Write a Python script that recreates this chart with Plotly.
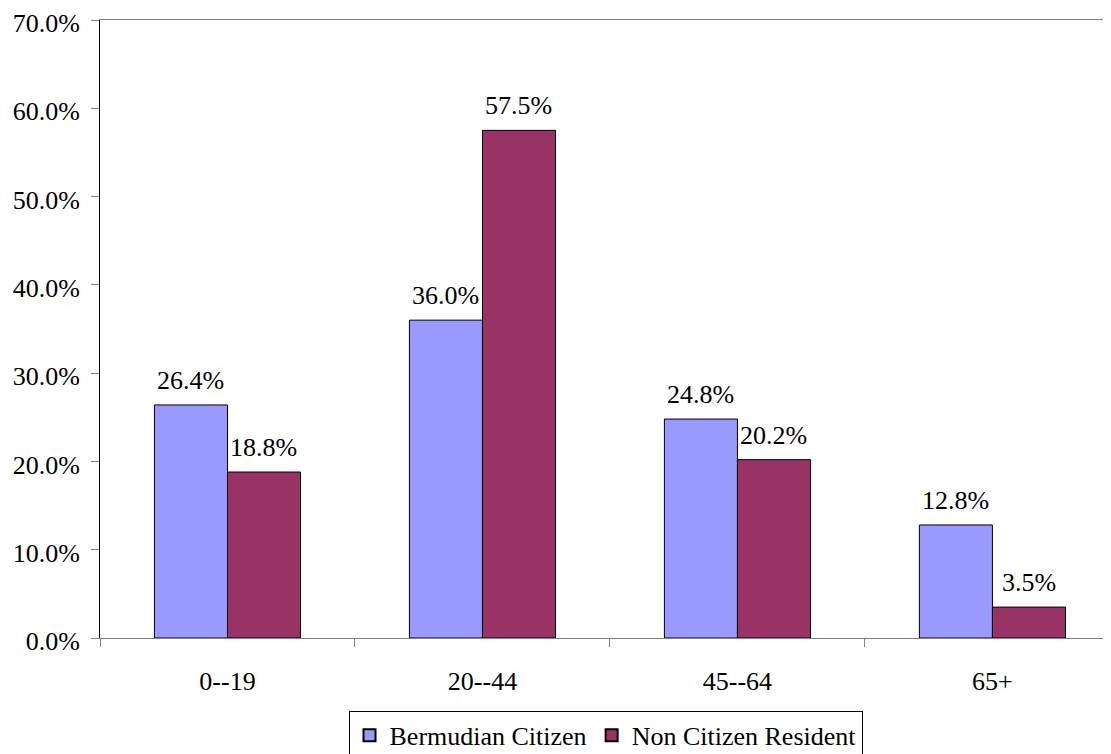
import plotly.graph_objects as go

categories = ["0--19", "20--44", "45--64", "65+"]
bermudian = [26.4, 36.0, 24.8, 12.8]
non_citizen = [18.8, 57.5, 20.2, 3.5]
series_names = ["Bermudian Citizen", "Non Citizen Resident"]
y_ticks = [0, 10, 20, 30, 40, 50, 60, 70]
y_tick_labels = [f"{v:.1f}%" for v in y_ticks]

FONT = "Liberation Serif, Times New Roman, serif"
FS = 26

fig = go.Figure()
series = [(series_names[0], bermudian, "#9999FF", -36.5),
          (series_names[1], non_citizen, "#993366", 36.5)]
for name, vals, color, _ in series:
    fig.add_trace(go.Bar(
        x=categories, y=vals, name=name,
        marker=dict(color=color, line=dict(color="#000000", width=1)),
    ))

for name, vals, color, xs in series:
    for c, v in zip(categories, vals):
        fig.add_annotation(
            x=c, y=v, text=f"{v:.1f}%", showarrow=False,
            xanchor="center", yanchor="bottom", xshift=xs, yshift=8,
            font=dict(family=FONT, size=FS, color="#000000"),
        )

# page body has an 8px margin, so the figure is sized to fit the 1111x754 window
fig.update_layout(
    width=1103, height=746,
    margin=dict(l=92, r=0, t=12, b=116, autoexpand=False),
    paper_bgcolor="white", plot_bgcolor="white",
    barmode="group", bargap=0.427, bargroupgap=0,
    font=dict(family=FONT, size=FS, color="#000000"),
    legend=dict(
        orientation="h", x=0.5, xanchor="center", y=-0.118, yanchor="top",
        bordercolor="#000000", borderwidth=1, bgcolor="white",
        font=dict(family=FONT, size=FS), itemsizing="constant",
        tracegroupgap=0, itemwidth=30,
    ),
    showlegend=True,
)
fig.update_xaxes(
    type="category", range=[-0.5, 3.465], automargin=False,
    showline=True, linecolor="#808080", linewidth=1, mirror=True,
    ticks="outside", tickson="boundaries", ticklen=8, tickcolor="#808080",
    showgrid=False, zeroline=False, ticklabelstandoff=20,
    tickfont=dict(family=FONT, size=FS),
)
fig.update_yaxes(
    range=[0, 70], tickvals=y_ticks, ticktext=y_tick_labels, automargin=False,
    showline=True, linecolor="#000000", linewidth=1,
    ticks="outside", ticklen=8, tickcolor="#808080",
    showgrid=False, zeroline=False, ticklabelstandoff=6, ticklabelshift=3,
    ticklabeloverflow="allow",
    tickfont=dict(family=FONT, size=FS),
)

fig.write_html("out.html")
